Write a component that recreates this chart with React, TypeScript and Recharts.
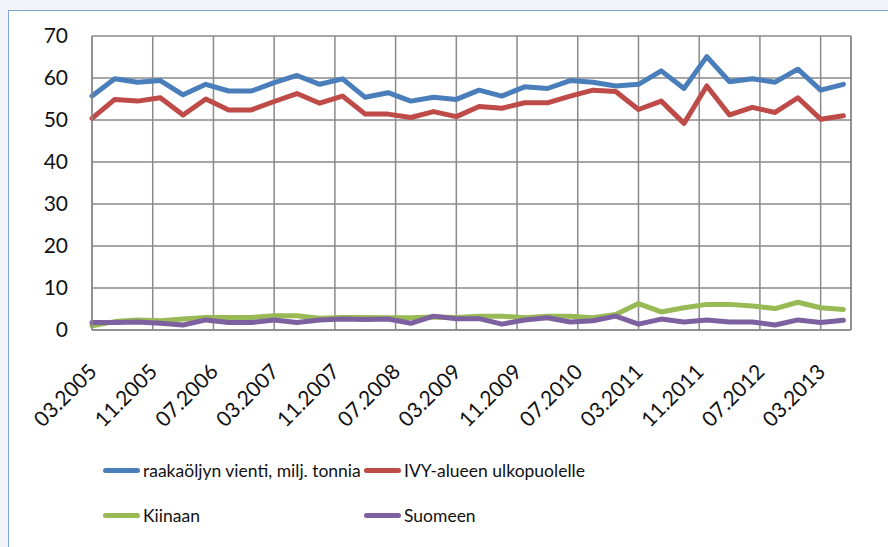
import React from "react";
import {
  CartesianGrid,
  Line,
  LineChart,
  ReferenceLine,
  XAxis,
  YAxis,
} from "recharts";

// quarterly observations
const dates = [
  "03.2005", "06.2005", "09.2005", "12.2005",
  "03.2006", "06.2006", "09.2006", "12.2006",
  "03.2007", "06.2007", "09.2007", "12.2007",
  "03.2008", "06.2008", "09.2008", "12.2008",
  "03.2009", "06.2009", "09.2009", "12.2009",
  "03.2010", "06.2010", "09.2010", "12.2010",
  "03.2011", "06.2011", "09.2011", "12.2011",
  "03.2012", "06.2012", "09.2012", "12.2012",
  "03.2013", "06.2013",
];

const vienti = [
  55.7, 59.8, 59.0, 59.4, 56.0, 58.5, 56.9, 56.9, 58.9, 60.6, 58.5, 59.8,
  55.4, 56.5, 54.5, 55.4, 54.9, 57.1, 55.7, 57.9, 57.5, 59.4, 59.0, 58.1,
  58.5, 61.7, 57.5, 65.1, 59.1, 59.8, 59.0, 62.1, 57.1, 58.5,
];
const ivy = [
  50.4, 54.9, 54.5, 55.3, 51.2, 55.0, 52.4, 52.4, 54.4, 56.3, 54.0, 55.7,
  51.4, 51.4, 50.6, 52.0, 50.8, 53.2, 52.8, 54.1, 54.1, 55.7, 57.1, 56.8,
  52.5, 54.5, 49.2, 58.1, 51.2, 53.0, 51.8, 55.3, 50.2, 51.0,
];
const kiinaan = [
  1.0, 2.0, 2.4, 2.2, 2.6, 3.0, 3.0, 3.0, 3.4, 3.4, 2.8, 3.0,
  3.0, 2.9, 2.9, 3.1, 3.0, 3.3, 3.3, 2.9, 3.3, 3.3, 2.9, 3.7,
  6.3, 4.3, 5.3, 6.1, 6.1, 5.7, 5.1, 6.6, 5.3, 4.9,
];
const suomeen = [
  1.8, 1.8, 1.9, 1.6, 1.2, 2.4, 1.8, 1.8, 2.4, 1.8, 2.4, 2.6,
  2.5, 2.6, 1.6, 3.3, 2.7, 2.7, 1.4, 2.4, 2.9, 1.9, 2.2, 3.3,
  1.4, 2.6, 1.9, 2.4, 1.9, 1.9, 1.2, 2.4, 1.8, 2.3,
];

const tickLabels = [
  "03.2005", "11.2005", "07.2006", "03.2007", "11.2007", "07.2008", "03.2009",
  "11.2009", "07.2010", "03.2011", "11.2011", "07.2012", "03.2013",
];
const yTicks = [0, 10, 20, 30, 40, 50, 60, 70];

const series = [
  { key: "vienti", name: "raakaöljyn vienti, milj. tonnia", color: "#4a7ebb" },
  { key: "ivy", name: "IVY-alueen ulkopuolelle", color: "#be4b48" },
  { key: "kiinaan", name: "Kiinaan", color: "#98b954" },
  { key: "suomeen", name: "Suomeen", color: "#7d60a0" },
];

// months since 03.2005
const toMonth = (d: string) => {
  const [mm, yyyy] = d.split(".").map(Number);
  return (yyyy - 2005) * 12 + (mm - 3);
};

const data = dates.map((d, i) => ({
  m: toMonth(d),
  vienti: vienti[i],
  ivy: ivy[i],
  kiinaan: kiinaan[i],
  suomeen: suomeen[i],
}));

const font = "Lato, 'Noto Sans', sans-serif";
const gridColor = "#8a8a8a";

const XTick = (props: any) => {
  const { x, y, payload } = props;
  const tx = x + 6;
  const ty = y + 35;
  return (
    <text
      x={tx}
      y={ty}
      transform={`rotate(-45, ${tx}, ${ty})`}
      textAnchor="end"
      fontSize={21}
      fontFamily={font}
      fill="#111"
    >
      {tickLabels[tickLabels.map(toMonth).indexOf(payload.value)]}
    </text>
  );
};

const App = () => {
  return (
    <>
      <div
        style={{
          position: "absolute",
          left: 0,
          top: 0,
          width: 888,
          height: 547,
          background: "#f1f4f9",
        }}
      />
      <div
        style={{
          position: "absolute",
          left: 8,
          top: 10,
          width: 880,
          height: 537,
          boxSizing: "border-box",
          borderTop: "1.5px solid #7ea6d8",
          borderLeft: "1.5px solid #7ea6d8",
          background: "#fff",
          fontFamily: font,
        }}
      >
        <LineChart
          width={879}
          height={536}
          data={data}
          margin={{ top: 25, right: 37, left: 0, bottom: 127 }}
        >
          <CartesianGrid stroke={gridColor} strokeWidth={1.5} />
          <XAxis
            dataKey="m"
            type="number"
            domain={[0, 100]}
            ticks={tickLabels.map(toMonth)}
            interval={0}
            height={90}
            tickLine={false}
            axisLine={{ stroke: gridColor, strokeWidth: 1.5 }}
            tick={<XTick />}
          />
          <YAxis
            domain={[0, 70]}
            ticks={yTicks}
            width={83}
            tickLine={false}
            tickMargin={18}
            axisLine={{ stroke: gridColor, strokeWidth: 1.5 }}
            tick={{ fontSize: 21, fill: "#111", fontFamily: font }}
          />
          <ReferenceLine x={100} stroke={gridColor} strokeWidth={1.5} />
          {series.map((s) => (
            <Line
              key={s.key}
              dataKey={s.key}
              name={s.name}
              type="linear"
              stroke={s.color}
              strokeWidth={5}
              strokeLinejoin="round"
              strokeLinecap="round"
              dot={false}
              activeDot={false}
              isAnimationActive={false}
            />
          ))}
        </LineChart>
        {series.map((s, i) => (
          <div
            key={s.key}
            style={{
              position: "absolute",
              left: 94 + (i % 2) * 261,
              top: 447 + Math.floor(i / 2) * 45,
              height: 24,
              display: "flex",
              alignItems: "center",
              fontSize: 17.5,
              color: "#111",
              whiteSpace: "nowrap",
            }}
          >
            <span
              style={{
                display: "inline-block",
                width: 37,
                height: 5,
                borderRadius: 3,
                background: s.color,
                marginRight: 3,
              }}
            />
            {s.name}
          </div>
        ))}
      </div>
    </>
  );
};

export default App;
